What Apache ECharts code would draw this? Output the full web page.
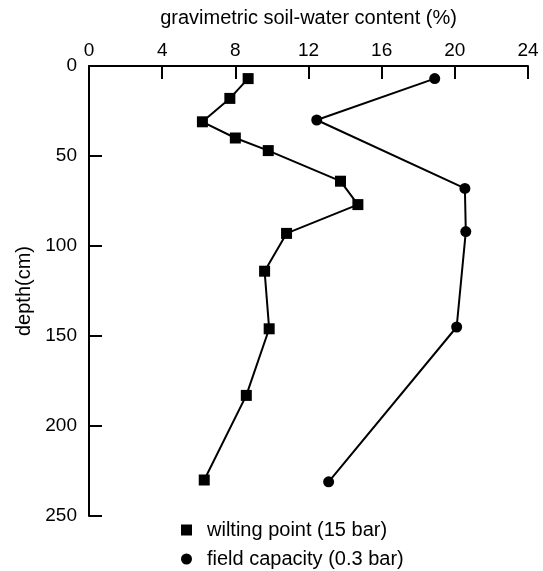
<!DOCTYPE html>
<html>
<head>
<meta charset="utf-8">
<script src="https://cdn.jsdelivr.net/npm/echarts@6/dist/echarts.min.js"></script>
<style>
  html, body { margin: 0; padding: 0; background: #fff; }
  #chart { width: 543px; height: 571px; }
</style>
</head>
<body>
<div id="chart"></div>
<script>
// Soil-water content profiles: moisture (%) against depth (cm)
const xTicks = [0, 4, 8, 12, 16, 20, 24];
const depthTicks = [0, 50, 100, 150, 200, 250];

const wiltingDepth = [7, 18, 31, 40, 47, 64, 77, 93, 114, 146, 183, 230];
const wiltingWater = [8.7, 7.7, 6.2, 8.0, 9.8, 13.75, 14.7, 10.8, 9.6, 9.85, 8.6, 6.3];

const fieldDepth = [7, 30, 68, 92, 145, 231];
const fieldWater = [18.9, 12.45, 20.55, 20.6, 20.1, 13.1];

const wiltingName = 'wilting point (15 bar)';
const fieldName = 'field capacity (0.3 bar)';

const pairs = (xs, ys) => xs.map((x, i) => [x, ys[i]]);

const font = 'Liberation Sans, Arial, Helvetica, sans-serif';
const chart = echarts.init(document.getElementById('chart'), null, { renderer: 'canvas' });

chart.setOption({
  backgroundColor: '#ffffff',
  animation: false,
  textStyle: { fontFamily: font, color: '#000' },
  grid: { left: 89, top: 66, right: 15, bottom: 55, containLabel: false },
  xAxis: {
    type: 'value',
    position: 'top',
    min: xTicks[0],
    max: xTicks[xTicks.length - 1],
    interval: 4,
    name: 'gravimetric soil-water content (%)',
    nameLocation: 'middle',
    nameGap: 38,
    nameTextStyle: { fontSize: 20, color: '#000', fontFamily: font },
    axisLine: { show: true, lineStyle: { color: '#000', width: 2 } },
    axisTick: { show: true, inside: true, length: 13, lineStyle: { color: '#000', width: 2 } },
    axisLabel: { margin: 6, fontSize: 19, color: '#000', fontFamily: font },
    splitLine: { show: false }
  },
  yAxis: {
    type: 'value',
    inverse: true,
    min: depthTicks[0],
    max: depthTicks[depthTicks.length - 1],
    interval: 50,
    name: 'depth(cm)',
    nameLocation: 'middle',
    nameGap: 52,
    nameRotate: 90,
    nameTextStyle: { fontSize: 20, color: '#000', fontFamily: font },
    axisLine: { show: true, onZero: false, lineStyle: { color: '#000', width: 2 } },
    axisTick: { show: true, inside: true, length: 13, lineStyle: { color: '#000', width: 2 } },
    axisLabel: { margin: 12, fontSize: 19, color: '#000', fontFamily: font },
    splitLine: { show: false }
  },
  legend: {
    orient: 'vertical',
    left: 181,
    top: 519,
    padding: 0,
    height: 60,
    itemWidth: 11,
    itemHeight: 11,
    itemGap: 7,
    textStyle: { fontSize: 20, lineHeight: 22, color: '#000', fontFamily: font, padding: [0, 0, 0, 10] },
    data: [
      { name: wiltingName, icon: 'rect' },
      { name: fieldName, icon: 'circle' }
    ]
  },
  series: [
    {
      name: wiltingName,
      type: 'line',
      data: pairs(wiltingWater, wiltingDepth),
      symbol: 'rect',
      symbolSize: 11,
      lineStyle: { color: '#000', width: 2 },
      itemStyle: { color: '#000' }
    },
    {
      name: fieldName,
      type: 'line',
      data: pairs(fieldWater, fieldDepth),
      symbol: 'circle',
      symbolSize: 11,
      lineStyle: { color: '#000', width: 2 },
      itemStyle: { color: '#000' }
    }
  ]
});
</script>
</body>
</html>
